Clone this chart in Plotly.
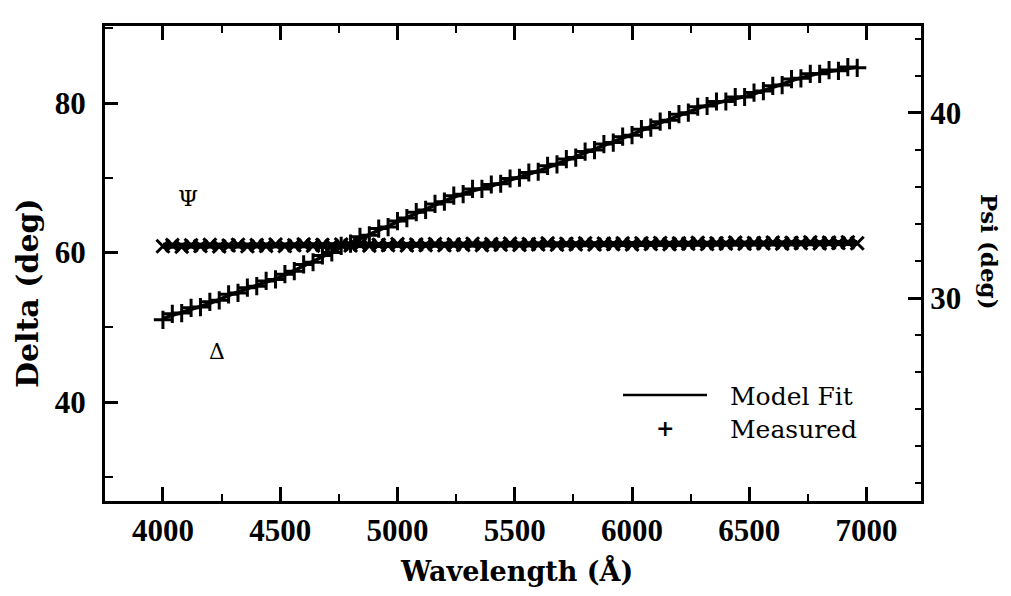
import plotly.graph_objects as go

# Wavelength grid of the measurements (Angstrom)
wl_meas = [4000, 4040, 4080, 4120, 4160, 4200, 4240, 4280, 4320, 4360,
           4400, 4440, 4480, 4520, 4560, 4600, 4640, 4680, 4720, 4760,
           4800, 4840, 4880, 4920, 4960, 5000, 5040, 5080, 5120, 5160,
           5200, 5240, 5280, 5320, 5360, 5400, 5440, 5480, 5520, 5560,
           5600, 5640, 5680, 5720, 5760, 5800, 5840, 5880, 5920, 5960,
           6000, 6040, 6080, 6120, 6160, 6200, 6240, 6280, 6320, 6360,
           6400, 6440, 6480, 6520, 6560, 6600, 6640, 6680, 6720, 6760,
           6800, 6840, 6880, 6920, 6960]

# Measured ellipsometric Delta (deg)
delta_meas = [51.0, 51.8, 51.9, 52.6, 52.7, 53.4, 53.6, 54.4, 54.6, 55.3,
              55.5, 56.2, 56.4, 57.1, 57.5, 58.4, 58.7, 59.6, 60.0, 60.9,
              61.2, 62.1, 62.3, 63.2, 63.4, 64.2, 64.6, 65.4, 65.7, 66.5,
              66.8, 67.6, 67.8, 68.5, 68.5, 69.1, 69.2, 69.9, 70.0, 70.7,
              70.8, 71.6, 71.8, 72.5, 72.7, 73.5, 73.7, 74.5, 74.7, 75.5,
              75.7, 76.5, 76.7, 77.5, 77.7, 78.5, 78.7, 79.5, 79.6, 80.2,
              80.2, 80.8, 80.8, 81.4, 81.6, 82.3, 82.4, 83.2, 83.3, 83.9,
              83.9, 84.4, 84.3, 84.8, 84.7]

# Measured ellipsometric Psi (deg)
psi_meas = [32.80, 32.86, 32.78, 32.85, 32.81, 32.87, 32.79, 32.84, 32.88, 32.80,
            32.86, 32.82, 32.89, 32.81, 32.85, 32.90, 32.83, 32.87, 32.82, 32.89,
            32.84, 32.90, 32.83, 32.88, 32.85, 32.91, 32.84, 32.89, 32.86, 32.92,
            32.85, 32.90, 32.87, 32.93, 32.86, 32.91, 32.88, 32.94, 32.87, 32.92,
            32.89, 32.95, 32.88, 32.93, 32.90, 32.96, 32.89, 32.94, 32.91, 32.95,
            32.90, 32.96, 32.92, 32.97, 32.91, 32.95, 32.93, 32.98, 32.92, 32.96,
            32.94, 32.99, 32.93, 32.97, 32.95, 33.00, 32.94, 32.98, 32.96, 33.01,
            32.95, 32.99, 32.97, 33.01, 32.96]

# Model fit curves
wl_fit_delta = [4000, 4100, 4200, 4300, 4400, 4500, 4600, 4700, 4800, 4900,
                5000, 5100, 5200, 5300, 5400, 5500, 5600, 5700, 5800, 5900,
                6000, 6100, 6200, 6300, 6400, 6500, 6600, 6700, 6800, 6900, 6960]
delta_fit = [51.2, 52.2, 53.2, 54.5, 55.6, 56.7, 58.2, 59.8, 61.3, 62.7,
             64.1, 65.5, 66.9, 68.1, 68.9, 69.9, 70.9, 72.1, 73.3, 74.6,
             75.8, 77.1, 78.3, 79.5, 80.3, 81.0, 82.1, 83.2, 84.0, 84.5, 84.8]

wl_fit_psi = [4000, 4250, 4500, 4750, 5000, 5250, 5500, 5750, 6000, 6250,
              6500, 6750, 6960]
psi_fit = [32.82, 32.84, 32.85, 32.86, 32.87, 32.88, 32.90, 32.91, 32.92, 32.93,
           32.94, 32.96, 32.97]

x_ticks = [4000, 4500, 5000, 5500, 6000, 6500, 7000]
delta_ticks = [40, 60, 80]
psi_ticks = [30, 40]

W, H = 1011, 596
ML, MR, MT, MB = 105, 90, 26, 95
PW, PH = W - ML - MR, H - MT - MB


def px(x):
    return (x - ML) / PW


def py(y):
    return (H - MB - y) / PH


fig = go.Figure()

fig.add_trace(go.Scatter(x=wl_fit_delta, y=delta_fit, mode="lines",
                         line=dict(color="black", width=3.5),
                         showlegend=False, yaxis="y"))
fig.add_trace(go.Scatter(x=wl_meas, y=delta_meas, mode="markers",
                         marker=dict(symbol="cross-thin", size=13,
                                     line=dict(color="black", width=3)),
                         showlegend=False, yaxis="y"))
fig.add_trace(go.Scatter(x=wl_fit_psi, y=psi_fit, mode="lines",
                         line=dict(color="black", width=6),
                         showlegend=False, yaxis="y2"))
fig.add_trace(go.Scatter(x=wl_meas, y=psi_meas, mode="markers",
                         marker=dict(symbol="x-thin", size=13,
                                     line=dict(color="black", width=3)),
                         showlegend=False, yaxis="y2"))

tick_font = dict(family="Liberation Serif", size=31, color="black", weight="bold")

fig.update_layout(
    width=W, height=H,
    margin=dict(l=ML, r=MR, t=MT, b=MB),
    paper_bgcolor="white", plot_bgcolor="white",
    showlegend=False,
    xaxis=dict(
        range=[3753, 7232], tickvals=x_ticks,
        ticks="inside", ticklen=14, tickwidth=2.5, tickcolor="black",
        minor=dict(ticks="inside", dtick=250, tick0=4000, ticklen=7,
                   tickwidth=2, tickcolor="black"),
        showline=True, linewidth=3, linecolor="black", mirror="ticks",
        showgrid=False, zeroline=False, tickfont=tick_font,
    ),
    yaxis=dict(
        range=[26.76, 90.3], tickvals=delta_ticks,
        ticks="inside", ticklen=13, tickwidth=2.5, tickcolor="black",
        minor=dict(ticks="inside", dtick=10, tick0=0, ticklen=8,
                   tickwidth=2, tickcolor="black"),
        showline=True, linewidth=3, linecolor="black",
        showgrid=False, zeroline=False, tickfont=tick_font,
        ticklabelstandoff=10,
    ),
    yaxis2=dict(
        range=[19.03, 44.7], tickvals=psi_ticks, overlaying="y", side="right",
        ticks="inside", ticklen=13, tickwidth=2.5, tickcolor="black",
        minor=dict(ticks="inside", dtick=2, tick0=0, ticklen=6,
                   tickwidth=2, tickcolor="black"),
        showline=True, linewidth=3, linecolor="black",
        showgrid=False, zeroline=False, tickfont=tick_font,
    ),
)

title_font = dict(family="DejaVu Serif", color="black", weight="bold")
body_font = dict(family="DejaVu Serif", color="black")

annotations = [
    dict(text="Wavelength (Å)", x=px(516), y=py(570),
         font=dict(size=27, **title_font)),
    dict(text="Delta (deg)", x=px(28), y=py(293), textangle=-90,
         font=dict(size=30, **title_font)),
    dict(text="Psi (deg)", x=px(990), y=py(252), textangle=90,
         font=dict(size=23, **title_font)),
    dict(text="Ψ", x=px(188), y=py(198), font=dict(size=23, **body_font)),
    dict(text="Δ", x=px(217), y=py(351), font=dict(size=22, **body_font)),
    dict(text="Model Fit", x=px(728), y=py(396), xanchor="left",
         font=dict(size=25, **body_font)),
    dict(text="Measured", x=px(728), y=py(429), xanchor="left",
         font=dict(size=25, **body_font)),
    dict(text="+", x=px(665), y=py(428), font=dict(size=22, **title_font)),
]
for a in annotations:
    a.setdefault("xanchor", "center")
    fig.add_annotation(xref="paper", yref="paper", yanchor="middle",
                       showarrow=False, **a)

fig.add_shape(type="line", xref="paper", yref="paper",
              x0=px(623), x1=px(707), y0=py(395), y1=py(395),
              line=dict(color="black", width=2.5))

fig.write_html("out.html")
